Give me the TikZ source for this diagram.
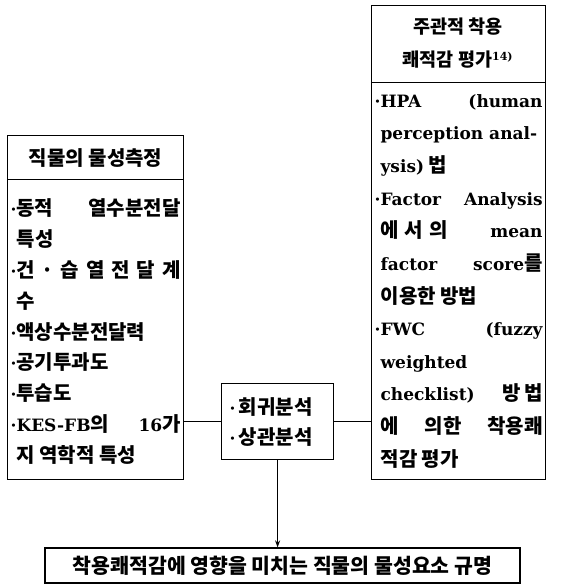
\documentclass[tikz,border=0pt]{standalone}
\usepackage{fontspec}
\usetikzlibrary{arrows.meta}
\setmainfont{Noto Sans CJK KR}
\newfontfamily\latfont{DejaVu Serif}[Scale=0.85]
\newcommand\lat[1]{{\latfont\bfseries #1}}
\newcommand\bul{\lat{·}}
\newcommand\ind{\hspace*{6pt}}
\newcommand\rline[1]{\hbox to 168pt{#1\hfil}}
\newcommand\lline[1]{\hbox to 170pt{#1\hfil}}
\begin{document}
\begin{tikzpicture}[x=1pt,y=-1pt,line width=1.2pt,
  box/.style={draw,inner sep=0pt,anchor=north west},
  kfont/.style={font=\fontsize{20}{30}\selectfont\bfseries},
  hfont/.style={font=\fontsize{18.5}{30}\selectfont\bfseries},
  tl/.style={kfont,anchor=base west,inner sep=0pt}]
\useasboundingbox (0,0) rectangle (562,588);
% right box
\node[box,minimum width=174pt,minimum height=77pt] (Rh) at (371,5) {};
\node[hfont,anchor=base,inner sep=0pt] (rh1) at (458,33.8) {주관적 착용};
\node[hfont,anchor=base,inner sep=0pt] (rh2) at (458,66.8) {쾌적감 평가\textsuperscript{\lat{14)}}};
\node[box,minimum width=174pt,minimum height=397pt] (Rb) at (371,82) {};
\node[tl] (r1) at (374,107.4) {\rline{\bul\lat{HPA}\hfill\lat{(human}}};
\node[tl] (r2) at (374,140) {\rline{\ind\lat{perception anal-}}};
\node[tl] (r3) at (374,172.6) {\rline{\ind\lat{ysis)} 법}};
\node[tl] (r4) at (374,205.2) {\rline{\bul\lat{Factor}\hfill\lat{Analysis}}};
\node[tl] (r5) at (374,237.8) {\rline{\ind 에\hspace{0.3em}서\hspace{0.3em}의\hfill\lat{mean}}};
\node[tl] (r6) at (374,270.4) {\rline{\ind\lat{factor}\hfill\lat{score}를}};
\node[tl] (r7) at (374,303) {\rline{\ind 이용한 방법}};
\node[tl] (r8) at (374,335.6) {\rline{\bul\lat{FWC}\hfill\lat{(fuzzy}}};
\node[tl] (r9) at (374,368.2) {\rline{\ind\lat{weighted}}};
\node[tl] (r10) at (374,400.8) {\rline{\ind\lat{checklist)}\hfill 방\,법}};
\node[tl] (r11) at (374,433.4) {\rline{\ind 에\hfill 의한\hfill 착용쾌}};
\node[tl] (r12) at (374,466) {\rline{\ind 적감 평가}};
% left box
\node[box,kfont,minimum width=176pt,minimum height=44pt] (Lh) at (7,135) {직물의 물성측정};
\node[box,minimum width=176pt,minimum height=300pt] (Lb) at (7,179) {};
\node[tl] (l1) at (10,215.4) {\lline{\bul 동적\hfill 열수분전달}};
\node[tl] (l2) at (10,246.3) {\lline{\ind 특성}};
\node[tl] (l3) at (10,277.2) {\lline{\bul 건\hfill·\hfill 습\hfill 열\hfill 전\hfill 달\hfill 계}};
\node[tl] (l4) at (10,308.1) {\lline{\ind 수}};
\node[tl] (l5) at (10,339) {\lline{\bul 액상수분전달력}};
\node[tl] (l6) at (10,369.9) {\lline{\bul 공기투과도}};
\node[tl] (l7) at (10,400.8) {\lline{\bul 투습도}};
\node[tl] (l8) at (10,431.7) {\lline{\bul\lat{KES-FB}의\hfill\lat{16}가}};
\node[tl] (l9) at (10,462.6) {\lline{\ind 지 역학적 특성}};
% middle box
\node[box,minimum width=112pt,minimum height=76pt] (M) at (221,383) {};
\node[tl] (m1) at (229,414.4) {\bul\,회귀분석};
\node[tl] (m2) at (229,444.4) {\bul\,상관분석};
% bottom box
\node[draw,inner sep=0pt,minimum width=475pt,minimum height=35pt,font=\fontsize{20.5}{30}\selectfont\bfseries] (B) at (282.5,565.5)
  {착용쾌적감에 영향을 미치는 직물의 물성요소 규명};
% connectors
\draw (M.west) -- (M.west -| Lb.east);
\draw (M.east) -- (M.east -| Rb.west);
\draw[-{Stealth[length=7pt,width=5pt]}] (M.south) -- (M.south |- B.north);
\end{tikzpicture}
\end{document}
